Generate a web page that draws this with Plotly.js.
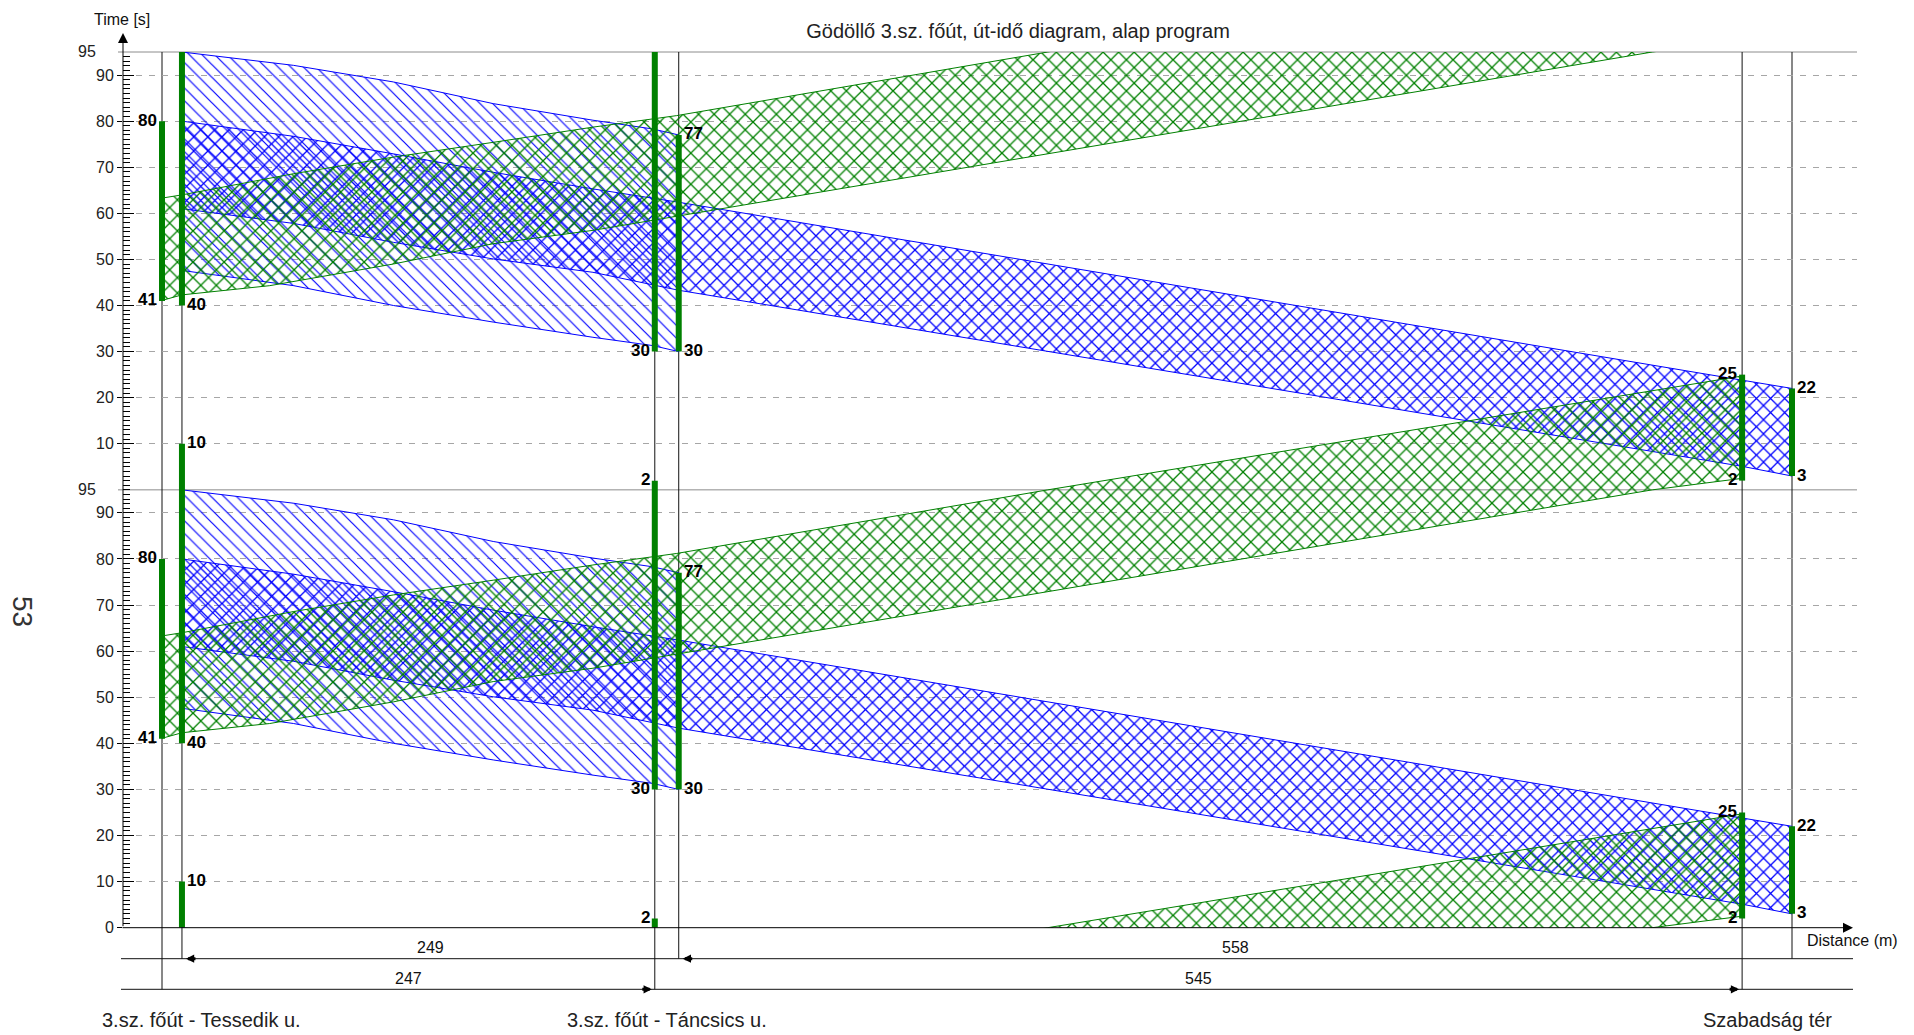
<!DOCTYPE html>
<html><head><meta charset="utf-8">
<script src="https://cdn.plot.ly/plotly-3.0.1.min.js"></script>
<style>html,body{margin:0;padding:0;background:#fff;overflow:hidden}#chart{width:1914px;height:1035px}</style>
</head><body><div id="chart"></div>
<script>
// ---------------- data ----------------
const cycleLength = 95;
const cyclesShown = 2;
const chartTitle = 'Gödöllő 3.sz. főút, út-idő diagram, alap program';
const junctionNames = ['3.sz. főút - Tessedik u.', '3.sz. főút - Táncsics u.', 'Szabadság tér'];
// stop line positions (m) for each direction
const eastStopDist = [0, 247, 792];
const westStopDist = [10, 259, 817];
// segment lengths shown on the dimension lines
const eastSegments = [247, 545];
const westSegments = [249, 558];
// green times (s within the cycle)
const eastGreenStart = [41, 30, 2];
const eastGreenEnd = [80, 2, 25];
const westGreenStart = [40, 30, 3];
const westGreenEnd = [10, 77, 22];
// time axis tick labels
const timeTicks = [0, 10, 20, 30, 40, 50, 60, 70, 80, 90];
// eastbound (green) through band edges: distance (m) / time (s)
const greenUpperDist = [0, 10, 66, 116, 166, 216, 258, 444, 792];
const greenUpperTime = [63.3, 64.0, 68.6, 72.2, 75.4, 78.7, 81.2, 95, 119.7];
const greenLowerDist = [0, 10, 54, 116, 166, 216, 258, 747, 792];
const greenLowerTime = [41.1, 42.3, 44.3, 49.0, 53.4, 56.3, 59.5, 95, 97.5];
// westbound (blue) through band edges
const blueThroughDist = [10, 66, 116, 166, 216, 259, 792, 817];
const blueThroughUpper = [80, 76.7, 72.9, 68.9, 65.3, 62.4, 23.8, 22];
const blueThroughLower = [61, 57.8, 53.7, 50.1, 47.2, 43.3, 5.1, 3];
// westbound (blue) band starting at Táncsics u.
const blueLocalDist = [10, 66, 116, 166, 216, 246, 259];
const blueLocalUpper = [95, 92.1, 88.5, 83.8, 80.2, 78.3, 77];
const blueLocalLower = [47.6, 44.3, 40.0, 36.4, 33.1, 31.3, 30];

// ---------------- layout helpers ----------------
const FONT = 'Liberation Sans, Arial, sans-serif';
const W = 1914, H = 1035;
const M = {l: 123, r: 57, t: 10, b: 10};
const plotW = W - M.l - M.r, plotH = H - M.t - M.b;
const pxX = p => (p - M.l) / plotW;
const pxY = p => (H - M.b - p) / plotH;
const yDom = [pxY(927.7), pxY(52)];
const tMax = cycleLength * cyclesShown;
const tY = t => yDom[0] + (yDom[1] - yDom[0]) * t / tMax;
const xRange = [-19.55, 849.58];
const rowWestY = 958.7, rowEastY = 989.3;

// ---------------- traces ----------------
function bandTrace(dU, tU, dL, tL, color, shape, size, solidity) {
  const x = [], y = [];
  for (let k = -1; k <= 1; k++) {
    const xs = dU.concat(dL.slice().reverse()); xs.push(dU[0]);
    const ys = tU.concat(tL.slice().reverse()); ys.push(tU[0]);
    xs.forEach(v => x.push(v));
    ys.forEach(v => y.push(v + k * cycleLength));
    x.push(null); y.push(null);
  }
  return {
    type: 'scatter', mode: 'lines', x, y, fill: 'toself',
    fillcolor: 'rgba(0,0,0,0)',
    fillpattern: {shape, fgcolor: color, bgcolor: 'rgba(0,0,0,0)', size, solidity},
    line: {color, width: 1}, hoverinfo: 'skip', showlegend: false
  };
}

const traces = [];
traces.push(bandTrace(blueLocalDist, blueLocalUpper, blueLocalDist, blueLocalLower, '#0000ff', '\\', 9, 0.13));
traces.push(bandTrace(blueThroughDist, blueThroughUpper, blueThroughDist, blueThroughLower, '#0000ff', 'x', 10, 0.24));
traces.push(bandTrace(greenUpperDist, greenUpperTime, greenLowerDist, greenLowerTime, '#008000', 'x', 11, 0.22));

// green signal bars
const barX = [], barY = [];
const annotations = [];
function addStop(d, s, e, side) {
  const eEff = e > s ? e : e + cycleLength;
  for (let k = -1; k <= 1; k++) {
    const a = Math.max(s + k * cycleLength, 0);
    const b = Math.min(eEff + k * cycleLength, tMax);
    if (b > a) { barX.push(d, d, null); barY.push(a, b, null); }
    [[s + k * cycleLength, s], [eEff + k * cycleLength, e]].forEach(([t, lab]) => {
      if (t > 0 && t < tMax) {
        annotations.push({
          x: d, y: t, xref: 'x', yref: 'y', text: '<b>' + lab + '</b>', showarrow: false,
          xanchor: side === 'left' ? 'right' : 'left', yanchor: 'middle',
          xshift: side === 'left' ? -3 : 3, yshift: 1,
          font: {family: FONT, size: 17, color: '#000'}
        });
      }
    });
  }
}
eastStopDist.forEach((d, i) => addStop(d, eastGreenStart[i], eastGreenEnd[i], 'left'));
westStopDist.forEach((d, i) => addStop(d, westGreenStart[i], westGreenEnd[i], 'right'));
traces.push({type: 'scatter', mode: 'lines', x: barX, y: barY, line: {color: '#008000', width: 6},
  hoverinfo: 'skip', showlegend: false});
traces.push({type: 'scatter', mode: 'lines', x: [null], y: [null], yaxis: 'y2', showlegend: false, hoverinfo: 'skip'});

// ---------------- ticks ----------------
const tickvals = [], ticktext = [];
for (let k = 0; k < cyclesShown; k++) {
  timeTicks.forEach(v => { if (k > 0 && v === 0) return; tickvals.push(v + k * cycleLength); ticktext.push(String(v)); });
}

// ---------------- shapes ----------------
const shapes = [];
for (let k = 1; k <= cyclesShown; k++) {
  shapes.push({type: 'line', xref: 'paper', yref: 'paper', x0: pxX(118), x1: 1, y0: tY(k * cycleLength), y1: tY(k * cycleLength),
    line: {color: '#8c8c8c', width: 1}, layer: 'between'});
  annotations.push({xref: 'paper', yref: 'paper', x: pxX(98), y: tY(k * cycleLength), text: String(cycleLength),
    showarrow: false, xanchor: 'right', yanchor: 'middle', font: {family: FONT, size: 16, color: '#222'}});
}
eastStopDist.forEach(d => shapes.push({type: 'line', xref: 'x', yref: 'paper', x0: d, x1: d, y0: tY(tMax), y1: pxY(rowEastY),
  line: {color: '#111', width: 1}, layer: 'between'}));
westStopDist.forEach(d => shapes.push({type: 'line', xref: 'x', yref: 'paper', x0: d, x1: d, y0: tY(tMax), y1: pxY(rowWestY),
  line: {color: '#111', width: 1}, layer: 'between'}));
[rowWestY, rowEastY].forEach(r => shapes.push({type: 'line', xref: 'paper', yref: 'paper', x0: pxX(121), x1: pxX(1853),
  y0: pxY(r), y1: pxY(r), line: {color: '#111', width: 1}}));

// axis arrows
annotations.push({xref: 'paper', yref: 'paper', x: pxX(1853), y: pxY(927.7), ax: 121 - 1853, ay: 0, text: '',
  showarrow: true, arrowhead: 2, arrowsize: 2, arrowwidth: 1, arrowcolor: '#000', standoff: 0});
annotations.push({xref: 'paper', yref: 'paper', x: pxX(123), y: pxY(33), ax: 0, ay: 927.7 - 33, text: '',
  showarrow: true, arrowhead: 2, arrowsize: 2, arrowwidth: 1, arrowcolor: '#000', standoff: 0});

// dimension arrows and labels
westSegments.forEach((len, i) => {
  annotations.push({xref: 'x', yref: 'paper', x: westStopDist[i], y: pxY(rowWestY), ax: 11, ay: 0, xshift: 4, text: '',
    showarrow: true, arrowhead: 2, arrowsize: 0.55, arrowwidth: 3, arrowcolor: '#000', standoff: 0});
  annotations.push({xref: 'x', yref: 'paper', x: (westStopDist[i] + westStopDist[i + 1]) / 2, y: pxY(947), text: String(len),
    showarrow: false, xanchor: 'center', yanchor: 'middle', font: {family: FONT, size: 16, color: '#111'}});
});
eastSegments.forEach((len, i) => {
  annotations.push({xref: 'x', yref: 'paper', x: eastStopDist[i + 1], y: pxY(rowEastY), ax: -11, ay: 0, xshift: -3, text: '',
    showarrow: true, arrowhead: 2, arrowsize: 0.55, arrowwidth: 3, arrowcolor: '#000', standoff: 0});
  annotations.push({xref: 'x', yref: 'paper', x: (eastStopDist[i] + eastStopDist[i + 1]) / 2, y: pxY(978), text: String(len),
    showarrow: false, xanchor: 'center', yanchor: 'middle', font: {family: FONT, size: 16, color: '#111'}});
});

// junction names
junctionNames.forEach((name, i) => {
  const mid = (eastStopDist[i] + westStopDist[i]) / 2;
  if (i === 0) {
    annotations.push({xref: 'paper', yref: 'paper', x: pxX(100), y: pxY(1020), text: name, showarrow: false,
      xanchor: 'left', yanchor: 'middle', font: {family: FONT, size: 20, color: '#222'}});
  } else {
    annotations.push({xref: 'x', yref: 'paper', x: mid, y: pxY(1020), text: name, showarrow: false,
      xanchor: 'center', yanchor: 'middle', font: {family: FONT, size: 20, color: '#222'}});
  }
});

// axis titles and side label
annotations.push({xref: 'paper', yref: 'paper', x: pxX(122), y: pxY(19.5), text: 'Time [s]', showarrow: false,
  xanchor: 'center', yanchor: 'middle', font: {family: FONT, size: 16, color: '#111'}});
annotations.push({xref: 'paper', yref: 'paper', x: pxX(1852), y: pxY(940.5), text: 'Distance (m)', showarrow: false,
  xanchor: 'center', yanchor: 'middle', font: {family: FONT, size: 16, color: '#111'}});
annotations.push({xref: 'paper', yref: 'paper', x: pxX(23), y: pxY(611), text: '53', showarrow: false, textangle: 90,
  xanchor: 'center', yanchor: 'middle', font: {family: FONT, size: 28, color: '#333'}});

const layout = {
  width: W, height: H, margin: M,
  paper_bgcolor: '#fff', plot_bgcolor: '#fff',
  showlegend: false, hovermode: false,
  title: {text: chartTitle, x: 988 / W, xanchor: 'center', xref: 'paper', y: 1 - 31 / H, yanchor: 'middle', yref: 'container',
    font: {family: FONT, size: 20, color: '#222'}},
  xaxis: {range: xRange, visible: false, fixedrange: true},
  yaxis: {domain: yDom, range: [0, tMax], tickmode: 'array', tickvals, ticktext,
    ticks: 'outside', ticklen: 5, tickwidth: 1, tickcolor: '#000',
    tickfont: {family: FONT, size: 16, color: '#222'},
    showgrid: true, gridcolor: '#a6a6a6', griddash: '6px,7px', gridwidth: 1,
    zeroline: false, showline: false, fixedrange: true},
  yaxis2: {overlaying: 'y', range: [0, tMax], side: 'left', anchor: 'x', tickmode: 'array', tickvals,
    ticks: 'inside', ticklen: 11, tickwidth: 1, tickcolor: '#000', showticklabels: false, showgrid: false,
    zeroline: false, showline: false, fixedrange: true,
    minor: {tickmode: 'linear', tick0: 0, dtick: 1, ticks: 'inside', ticklen: 7, tickwidth: 1, tickcolor: '#000', showgrid: false}},
  shapes, annotations
};
Plotly.newPlot('chart', traces, layout, {staticPlot: true, displayModeBar: false});
</script>
</body></html>
